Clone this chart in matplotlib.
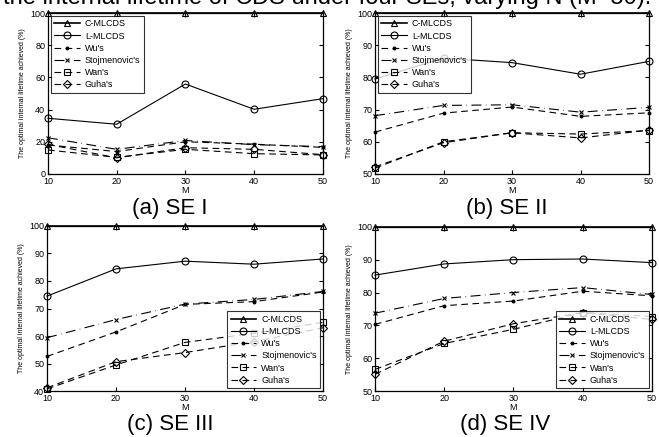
import matplotlib
matplotlib.use('Agg')
import matplotlib.pyplot as plt

plt.rcParams['font.family'] = ['Liberation Sans', 'DejaVu Sans']

M = [10, 20, 30, 40, 50]
SERIES = ["C-MLCDS", "L-MLCDS", "Wu's", "Stojmenovic's", "Wan's", "Guha's"]

# (a) SE I
se1_c = [100, 100, 100, 100, 100]
se1_l = [34.6, 30.9, 55.9, 40.2, 46.8]
se1_wu = [18.0, 13.9, 20.0, 18.5, 16.5]
se1_st = [22.5, 15.3, 20.8, 18.2, 17.0]
se1_wan = [14.9, 10.3, 15.3, 12.6, 11.8]
se1_guha = [18.4, 10.0, 16.3, 15.3, 12.0]

# (b) SE II
se2_c = [100, 100, 100, 100, 100]
se2_l = [79.5, 86.0, 84.6, 81.0, 85.0]
se2_wu = [63.0, 68.9, 70.8, 67.9, 69.0]
se2_st = [68.1, 71.3, 71.5, 69.2, 70.7]
se2_wan = [51.8, 60.0, 62.8, 62.4, 63.5]
se2_guha = [52.2, 59.7, 62.8, 61.2, 63.6]

# (c) SE III
se3_c = [100, 100, 100, 100, 100]
se3_l = [74.5, 84.4, 87.2, 86.1, 88.0]
se3_wu = [52.6, 61.5, 71.5, 72.5, 76.0]
se3_st = [59.4, 66.0, 71.6, 73.3, 76.2]
se3_wan = [40.8, 49.5, 57.7, 61.0, 65.0]
se3_guha = [41.2, 50.7, 54.0, 58.0, 63.0]

# (d) SE IV
se4_c = [100, 100, 100, 100, 100]
se4_l = [85.3, 88.7, 90.0, 90.2, 89.1]
se4_wu = [70.3, 76.0, 77.4, 80.4, 79.0]
se4_st = [73.7, 78.2, 80.0, 81.5, 79.4]
se4_wan = [56.6, 64.5, 68.8, 73.9, 72.7]
se4_guha = [55.1, 65.2, 70.5, 73.9, 71.8]

PANELS = [
    ('(a) SE I', [se1_c, se1_l, se1_wu, se1_st, se1_wan, se1_guha], (0, 100), [0, 20, 40, 60, 80, 100], 'upper left'),
    ('(b) SE II', [se2_c, se2_l, se2_wu, se2_st, se2_wan, se2_guha], (50, 100), [50, 60, 70, 80, 90, 100], 'upper left'),
    ('(c) SE III', [se3_c, se3_l, se3_wu, se3_st, se3_wan, se3_guha], (40, 100), [40, 50, 60, 70, 80, 90, 100], 'lower right'),
    ('(d) SE IV', [se4_c, se4_l, se4_wu, se4_st, se4_wan, se4_guha], (50, 100), [50, 60, 70, 80, 90, 100], 'lower right'),
]

STYLES = [
    dict(linestyle='-', marker='^', lw=1.2),
    dict(linestyle='-', marker='o', lw=0.8),
    dict(linestyle=(0, (6, 4)), marker='.', lw=0.8, ms=4, fill=True),
    dict(linestyle=(0, (9, 4, 0.5, 4)), marker='x', lw=0.8, ms=3),
    dict(linestyle=(0, (6, 4)), marker='s', lw=0.8),
    dict(linestyle=(0, (6, 4)), marker='D', lw=0.8, ms=4),
]

# axes rectangles in figure fractions
POS = [
    [0.0728, 0.602, 0.417, 0.368],
    [0.569, 0.602, 0.416, 0.368],
    [0.0713, 0.105, 0.419, 0.378],
    [0.569, 0.105, 0.420, 0.376],
]
CAPTION_XY = [(0.258, 0.522), (0.769, 0.522), (0.258, 0.028), (0.766, 0.028)]

fig = plt.figure(figsize=(6.59, 4.37), dpi=100)

fig.text(0.005, 0.991, 'the internal lifetime of CDS under four SEs, varying N (M=50).',
         fontsize=17, ha='left', va='baseline')

for (cap, data, ylim, yticks, loc), pos, cxy in zip(PANELS, POS, CAPTION_XY):
    ax = fig.add_axes(pos)
    for name, vals, st in zip(SERIES, data, STYLES):
        st = dict(st)
        ms = st.pop('ms', 5)
        fill = st.pop('fill', False)
        ax.plot(M, vals, color='black', markerfacecolor='black' if fill else 'none',
                markeredgecolor='black', markersize=ms, markeredgewidth=0.8,
                label=name, clip_on=False, **st)
    ax.set_xlim(10, 50)
    ax.set_ylim(*ylim)
    ax.set_xticks(M)
    ax.set_yticks(yticks)
    ax.tick_params(direction='in', length=3, labelsize=6.5, top=True, right=True, pad=2)
    for s in ax.spines.values():
        s.set_linewidth(0.9)
    ax.set_xlabel('M', fontsize=6.5, labelpad=0)
    ax.set_ylabel('The optimal internal lifetime achieved (%)', fontsize=5, labelpad=3)
    leg = ax.legend(loc=loc, fontsize=6.5, frameon=True, fancybox=False, handlelength=2.8,
                    labelspacing=0.35, borderpad=0.4, borderaxespad=0.3, handletextpad=0.6)
    leg.get_frame().set_edgecolor('black')
    leg.get_frame().set_linewidth(0.8)
    fig.text(cxy[0], cxy[1], cap, fontsize=16, ha='center', va='center')

fig.savefig('out.png', dpi=100)
